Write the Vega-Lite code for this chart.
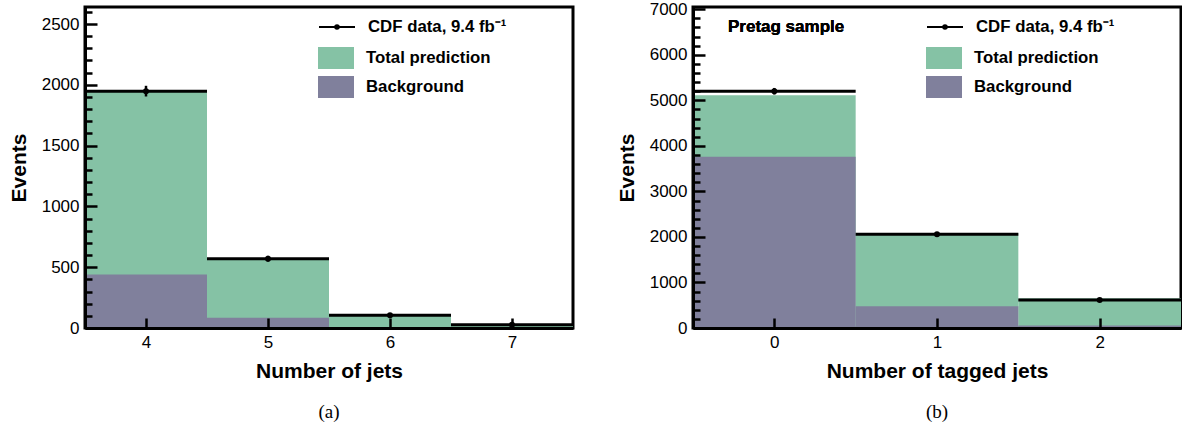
{
  "$schema": "https://vega.github.io/schema/vega-lite/v6.json",
  "background": "white",
  "padding": {"left": 6, "top": -2, "right": 0, "bottom": 0},
  "datasets": {
    "a": [
      {"bin": 4, "lo": 3.5, "hi": 4.5, "total": 1945, "bkg": 440, "data": 1948, "dlo": 1904, "dhi": 1992},
      {"bin": 5, "lo": 4.5, "hi": 5.5, "total": 565, "bkg": 85, "data": 570, "dlo": 546, "dhi": 594},
      {"bin": 6, "lo": 5.5, "hi": 6.5, "total": 108, "bkg": 5, "data": 105, "dlo": 95, "dhi": 115},
      {"bin": 7, "lo": 6.5, "hi": 7.5, "total": 28, "bkg": 2, "data": 26, "dlo": 21, "dhi": 31}
    ],
    "b": [
      {"bin": 0, "lo": -0.5, "hi": 0.5, "total": 5110, "bkg": 3760, "data": 5200, "dlo": 5128, "dhi": 5272},
      {"bin": 1, "lo": 0.5, "hi": 1.5, "total": 2080, "bkg": 480, "data": 2060, "dlo": 2015, "dhi": 2105},
      {"bin": 2, "lo": 1.5, "hi": 2.5, "total": 656, "bkg": 55, "data": 613, "dlo": 588, "dhi": 638}
    ]
  },
  "bounds": "flush",
  "spacing": 120,
  "resolve": {"scale": {"x": "independent", "y": "independent", "color": "independent", "shape": "independent"}, "legend": {"color": "independent", "shape": "independent"}},
  "config": {
    "view": {"stroke": "black", "strokeWidth": 3},
    "axis": {"domainColor": "black", "domainWidth": 3, "tickColor": "black", "tickWidth": 2.5, "grid": false, "labelOverlap": false, "tickCount": 200,
      "labelFont": "Liberation Sans", "labelFontSize": 17, "labelColor": "black",
      "titleFont": "Liberation Sans", "titleFontSize": 21, "titleFontWeight": "bold", "titleColor": "black"},
    "legend": {"labelFont": "Liberation Sans", "labelFontSize": 16.8, "labelFontWeight": "bold", "labelColor": "black", "padding": 0, "labelLimit": 400},
    "title": {"font": "Liberation Serif", "fontSize": 19, "fontWeight": "normal", "color": "black"}
  },
  "hconcat": [
    {
      "width": 488, "height": 321,
      "data": {"name": "a"},
      "title": {"text": "(a)", "orient": "bottom", "offset": 22, "anchor": "middle"},
      "layer": [
        {
          "mark": {"type": "bar", "opacity": 1},
          "encoding": {
            "x": {"field": "lo", "type": "quantitative", "title": "Number of jets",
              "scale": {"domain": [3.5, 7.5], "nice": false, "zero": false},
              "axis": {"values": [4, 5, 6, 7], "tickSize": -10, "labelPadding": 16, "titlePadding": 10, "format": "d", "zindex": 2}},
            "x2": {"field": "hi"},
            "y": {"field": "total", "type": "quantitative", "title": "Events",
              "scale": {"domain": [0, 2640], "nice": false},
              "axis": {"values": [0,100,200,300,400,500,600,700,800,900,1000,1100,1200,1300,1400,1500,1600,1700,1800,1900,2000,2100,2200,2300,2400,2500,2600],
                "labelExpr": "datum.value % 500 === 0 ? datum.label : ''",
                "tickSize": {"condition": {"test": "datum.value % 500 === 0", "value": -12}, "value": -7},
                "labelPadding": 18, "titlePadding": 12, "format": "d", "zindex": 2}},
            "y2": {"datum": 0},
            "color": {"datum": "Total prediction", "type": "nominal",
              "scale": {"domain": ["Total prediction", "Background"], "range": ["#85C2A5", "#80809C"]},
              "legend": {"orient": "none", "legendX": 233, "legendY": 33, "title": null, "symbolType": "M-1,-0.61H1V0.61H-1Z", "symbolSize": 1296, "symbolStrokeWidth": 0, "labelOffset": 12, "rowPadding": -13}}
          }
        },
        {
          "mark": {"type": "bar", "opacity": 1},
          "encoding": {
            "x": {"field": "lo", "type": "quantitative", "title": "Number of jets"},
            "x2": {"field": "hi"},
            "y": {"field": "bkg", "type": "quantitative", "title": "Events"},
            "y2": {"datum": 0},
            "color": {"datum": "Background", "type": "nominal"}
          }
        },
        {
          "mark": {"type": "rule", "strokeWidth": 3, "color": "black"},
          "encoding": {
            "x": {"field": "lo", "type": "quantitative", "title": "Number of jets"},
            "x2": {"field": "hi"},
            "y": {"field": "data", "type": "quantitative", "title": "Events"}
          }
        },
        {
          "mark": {"type": "rule", "color": "black", "strokeWidth": 2.5},
          "encoding": {
            "x": {"field": "bin", "type": "quantitative", "title": "Number of jets"},
            "y": {"field": "dlo", "type": "quantitative", "title": "Events"},
            "y2": {"field": "dhi"}
          }
        },
        {
          "mark": {"type": "point", "filled": true, "color": "black", "size": 36, "opacity": 1},
          "encoding": {
            "x": {"field": "bin", "type": "quantitative", "title": "Number of jets"},
            "y": {"field": "data", "type": "quantitative", "title": "Events"}
          }
        },
        {
          "mark": {"type": "point", "filled": false, "color": "black", "size": 36, "opacity": 0},
          "encoding": {
            "x": {"field": "bin", "type": "quantitative", "title": "Number of jets"},
            "y": {"field": "data", "type": "quantitative", "title": "Events"},
            "shape": {"datum": "CDF data, 9.4  fb⁻¹", "type": "nominal",
              "scale": {"range": ["M-1,0H1M0.1,0A0.1,0.1,0,1,1,-0.1,0A0.1,0.1,0,1,1,0.1,0Z"]},
              "legend": {"orient": "none", "legendX": 233, "legendY": 1, "title": null, "symbolSize": 1296, "symbolStrokeWidth": 2, "symbolStrokeColor": "black", "symbolFillColor": "black", "symbolOpacity": 1, "labelOffset": 12}}
          }
        }
      ]
    },
    {
      "width": 488, "height": 321,
      "data": {"name": "b"},
      "title": {"text": "(b)", "orient": "bottom", "offset": 22, "anchor": "middle"},
      "layer": [
        {
          "mark": {"type": "bar", "opacity": 1},
          "encoding": {
            "x": {"field": "lo", "type": "quantitative", "title": "Number of tagged jets",
              "scale": {"domain": [-0.5, 2.5], "nice": false, "zero": false},
              "axis": {"values": [0, 1, 2], "tickSize": -10, "labelPadding": 16, "titlePadding": 10, "format": "d", "zindex": 2}},
            "x2": {"field": "hi"},
            "y": {"field": "total", "type": "quantitative", "title": "Events",
              "scale": {"domain": [0, 7050], "nice": false},
              "axis": {"values": [0,200,400,600,800,1000,1200,1400,1600,1800,2000,2200,2400,2600,2800,3000,3200,3400,3600,3800,4000,4200,4400,4600,4800,5000,5200,5400,5600,5800,6000,6200,6400,6600,6800,7000],
                "labelExpr": "datum.value % 1000 === 0 ? datum.label : ''",
                "tickSize": {"condition": {"test": "datum.value % 1000 === 0", "value": -12}, "value": -7},
                "labelPadding": 18, "titlePadding": 12, "format": "d", "zindex": 2}},
            "y2": {"datum": 0},
            "color": {"datum": "Total prediction", "type": "nominal",
              "scale": {"domain": ["Total prediction", "Background"], "range": ["#85C2A5", "#80809C"]},
              "legend": {"orient": "none", "legendX": 233, "legendY": 33, "title": null, "symbolType": "M-1,-0.61H1V0.61H-1Z", "symbolSize": 1296, "symbolStrokeWidth": 0, "labelOffset": 12, "rowPadding": -13}}
          }
        },
        {
          "mark": {"type": "bar", "opacity": 1},
          "encoding": {
            "x": {"field": "lo", "type": "quantitative", "title": "Number of tagged jets"},
            "x2": {"field": "hi"},
            "y": {"field": "bkg", "type": "quantitative", "title": "Events"},
            "y2": {"datum": 0},
            "color": {"datum": "Background", "type": "nominal"}
          }
        },
        {
          "mark": {"type": "rule", "strokeWidth": 3, "color": "black"},
          "encoding": {
            "x": {"field": "lo", "type": "quantitative", "title": "Number of tagged jets"},
            "x2": {"field": "hi"},
            "y": {"field": "data", "type": "quantitative", "title": "Events"}
          }
        },
        {
          "mark": {"type": "rule", "color": "black", "strokeWidth": 2.5},
          "encoding": {
            "x": {"field": "bin", "type": "quantitative", "title": "Number of tagged jets"},
            "y": {"field": "dlo", "type": "quantitative", "title": "Events"},
            "y2": {"field": "dhi"}
          }
        },
        {
          "mark": {"type": "point", "filled": true, "color": "black", "size": 36, "opacity": 1},
          "encoding": {
            "x": {"field": "bin", "type": "quantitative", "title": "Number of tagged jets"},
            "y": {"field": "data", "type": "quantitative", "title": "Events"}
          }
        },
        {
          "mark": {"type": "point", "filled": false, "color": "black", "size": 36, "opacity": 0},
          "encoding": {
            "x": {"field": "bin", "type": "quantitative", "title": "Number of tagged jets"},
            "y": {"field": "data", "type": "quantitative", "title": "Events"},
            "shape": {"datum": "CDF data, 9.4  fb⁻¹", "type": "nominal",
              "scale": {"range": ["M-1,0H1M0.1,0A0.1,0.1,0,1,1,-0.1,0A0.1,0.1,0,1,1,0.1,0Z"]},
              "legend": {"orient": "none", "legendX": 233, "legendY": 1, "title": null, "symbolSize": 1296, "symbolStrokeWidth": 2, "symbolStrokeColor": "black", "symbolFillColor": "black", "symbolOpacity": 1, "labelOffset": 12}}
          }
        },
        {
          "mark": {"type": "text", "font": "Liberation Sans", "fontSize": 17, "fontWeight": "bold", "color": "black", "align": "left", "baseline": "middle"},
          "encoding": {
            "x": {"datum": -0.285, "type": "quantitative"},
            "y": {"datum": 6600, "type": "quantitative"},
            "text": {"value": "Pretag sample"}
          }
        }
      ]
    }
  ]
}
